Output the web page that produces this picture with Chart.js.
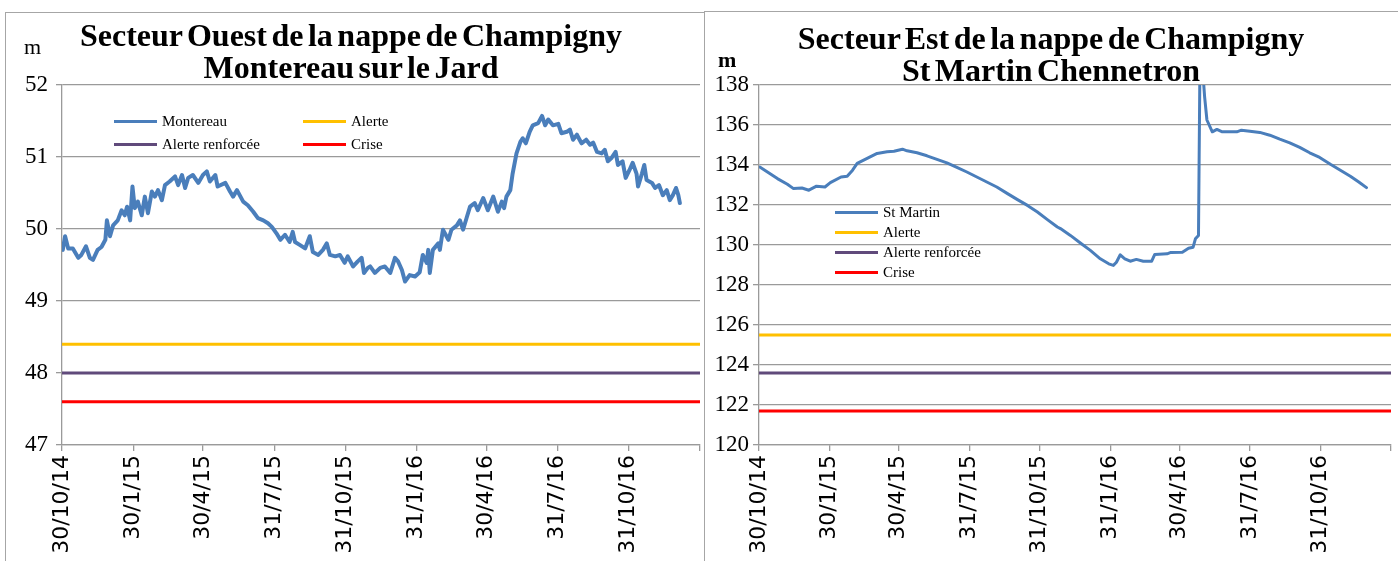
<!DOCTYPE html>
<html>
<head>
<meta charset="utf-8">
<script src="https://cdn.jsdelivr.net/npm/chart.js@4.4.1/dist/chart.umd.min.js"></script>
<style>
html,body{margin:0;padding:0;background:#fff;}
body{width:1398px;height:561px;position:relative;overflow:hidden;font-family:"Liberation Serif","Times New Roman",serif;color:#000;}
.box{position:absolute;border:1.5px solid #a6a6a6;box-sizing:border-box;}
canvas{position:absolute;top:0;}
.title{position:absolute;text-align:center;font-weight:bold;font-size:32px;line-height:32px;word-spacing:-3.5px;white-space:nowrap;}
.unit{position:absolute;font-size:22px;line-height:22px;}
.item{position:absolute;white-space:nowrap;font-size:15px;line-height:16px;height:16px;}
.item i{position:absolute;left:0;top:6.5px;width:43px;height:3px;}
.item span{position:absolute;left:48px;top:0;}
</style>
</head>
<body>
<div class="box" style="left:5px;top:12px;width:700px;height:600px;"></div>
<div class="box" style="left:704px;top:11px;width:700px;height:600px;"></div>
<canvas id="cOuest" width="702" height="561" style="left:0;"></canvas>
<canvas id="cEst" width="694" height="561" style="left:704px;"></canvas>
<div class="title" style="left:0;top:19px;width:702px;">Secteur Ouest de la nappe de Champigny<br>Montereau sur le Jard</div>
<div class="title" style="left:704px;top:22px;width:694px;">Secteur Est de la nappe de Champigny<br>St Martin Chennetron</div>
<div class="unit" style="left:24px;top:36px;">m</div>
<div class="unit" style="left:718px;top:49px;font-weight:bold;">m</div>
<div id="legends"></div>
<script>
// ---- Data ----
const startDate = '2014-10-30';
const tickDates = ['2014-10-30','2015-01-30','2015-04-30','2015-07-31','2015-10-31','2016-01-31','2016-04-30','2016-07-31','2016-10-31','2017-01-31'];
const tickLabels = ['30/10/14','30/1/15','30/4/15','31/7/15','31/10/15','31/1/16','30/4/16','31/7/16','31/10/16',''];

// Montereau (days since 30/10/2014, level m)
const montereauDay = [1,4,8,14,21,25,31,36,40,46,51,56,58,62,66,72,77,81,84,88,91,94,98,103,107,111,116,120,124,129,133,139,146,150,155,159,163,169,176,182,187,191,198,201,211,217,221,226,234,240,247,253,260,266,271,277,282,288,294,298,301,307,314,320,324,331,337,342,346,353,359,365,369,376,382,387,390,395,398,404,411,417,424,430,434,439,443,449,456,462,466,471,473,475,479,486,488,492,499,503,510,514,518,523,527,533,537,544,550,557,563,568,571,574,579,582,587,592,595,599,604,608,615,620,624,628,634,641,645,652,656,660,665,671,677,682,686,691,697,701,705,710,715,718,724,728,733,737,742,744,749,752,755,762,766,771,776,781,785,789,793,796,798];
const montereauLevel = [49.71,49.90,49.73,49.73,49.60,49.64,49.76,49.60,49.57,49.71,49.75,49.85,50.12,49.90,50.05,50.12,50.26,50.19,50.31,50.12,50.59,50.29,50.38,50.19,50.45,50.22,50.52,50.45,50.54,50.40,50.61,50.66,50.73,50.61,50.75,50.57,50.71,50.75,50.64,50.75,50.80,50.66,50.75,50.59,50.64,50.52,50.45,50.54,50.38,50.33,50.24,50.15,50.12,50.08,50.03,49.94,49.85,49.92,49.82,49.96,49.82,49.78,49.73,49.90,49.68,49.64,49.71,49.80,49.64,49.62,49.64,49.53,49.62,49.48,49.55,49.60,49.39,49.46,49.48,49.39,49.46,49.48,49.39,49.60,49.55,49.43,49.27,49.36,49.34,49.40,49.64,49.53,49.71,49.39,49.71,49.80,49.71,49.99,49.85,49.99,50.05,50.12,49.99,50.17,50.31,50.36,50.26,50.43,50.26,50.45,50.24,50.38,50.29,50.45,50.54,50.77,51.05,51.21,51.26,51.19,51.35,51.44,51.47,51.57,51.44,51.52,51.44,51.46,51.33,51.35,51.38,51.24,51.31,51.19,51.24,51.17,51.20,51.07,51.05,51.10,50.94,50.99,51.07,50.89,50.94,50.71,50.82,50.92,50.77,50.59,50.77,50.89,50.68,50.64,50.57,50.61,50.47,50.54,50.40,50.47,50.57,50.47,50.36];
const ouestAlerte = 48.4, ouestRenforcee = 48.0, ouestCrise = 47.6;

// St Martin (days since 30/10/2014, level m)
const stMartinDay = [1,11,24,37,45,56,65,75,86,93,107,115,122,128,141,154,167,176,187,193,206,219,232,245,258,271,284,297,310,324,337,350,363,376,389,393,406,419,432,445,456,462,466,471,477,484,492,501,512,516,532,537,552,560,566,569,573,575,578,581,584,591,597,604,623,629,640,653,666,679,692,705,718,731,745,758,771,782,792];
const stMartinLevel = [133.90,133.65,133.32,133.04,132.82,132.85,132.74,132.94,132.90,133.12,133.40,133.44,133.74,134.08,134.33,134.58,134.66,134.69,134.79,134.71,134.61,134.46,134.28,134.11,133.88,133.65,133.40,133.15,132.90,132.57,132.27,131.98,131.65,131.27,130.90,130.82,130.48,130.10,129.73,129.31,129.06,128.98,129.14,129.51,129.31,129.19,129.28,129.19,129.19,129.53,129.56,129.63,129.64,129.84,129.89,130.31,130.48,139.5,139.0,137.41,136.25,135.66,135.78,135.66,135.66,135.74,135.69,135.63,135.49,135.29,135.11,134.88,134.61,134.38,134.04,133.74,133.44,133.15,132.87];
const estAlerte = 125.5, estRenforcee = 123.6, estCrise = 121.7;

const COLORS = {serie:'#4a7ebb', alerte:'#ffc000', renforcee:'#604a7b', crise:'#ff0000'};

// ---- Helpers ----
const DAY = 86400000;
const t0 = Date.parse(startDate + 'T00:00:00Z');
const tickDays = tickDates.map(d => Math.round((Date.parse(d + 'T00:00:00Z') - t0) / DAY));
const xMax = tickDays[tickDays.length - 1];
const pts = (xs, ys) => xs.map((x, i) => ({x: x, y: ys[i]}));
const flat = v => [{x: 0, y: v}, {x: xMax, y: v}];
const GRID = '#9a9a9a';

function makeChart(id, cfg) {
  const datasets = [
    {label: cfg.name, data: pts(cfg.days, cfg.levels), borderColor: COLORS.serie, borderWidth: cfg.serieWidth, pointRadius: 0, tension: 0, borderJoinStyle: 'round', borderCapStyle: 'round'},
    {label: 'Alerte', data: flat(cfg.alerte), borderColor: COLORS.alerte, borderWidth: 3, pointRadius: 0},
    {label: 'Alerte renforcée', data: flat(cfg.renforcee), borderColor: COLORS.renforcee, borderWidth: 3, pointRadius: 0},
    {label: 'Crise', data: flat(cfg.crise), borderColor: COLORS.crise, borderWidth: 3, pointRadius: 0}
  ];
  new Chart(document.getElementById(id), {
    type: 'line',
    data: {datasets: datasets},
    options: {
      responsive: false, animation: false, devicePixelRatio: 1,
      layout: {padding: {top: 85, left: 0, right: cfg.padRight, bottom: 0}},
      plugins: {legend: {display: false}, tooltip: {enabled: false}, title: {display: false}},
      scales: {
        x: {
          type: 'linear', min: 0, max: xMax,
          afterBuildTicks: s => { s.ticks = tickDays.map(v => ({value: v})); },
          afterFit: s => { s.height = 116; s.paddingLeft = 0; s.paddingRight = 0; },
          ticks: {autoSkip: false, minRotation: 90, maxRotation: 90, padding: 4, color: '#000',
                  font: {family: 'DejaVu Sans', size: 22},
                  callback: (v, i) => tickLabels[i]},
          grid: {drawOnChartArea: false, color: GRID, lineWidth: 1.3, tickLength: 6},
          border: {color: GRID, width: 1.3}
        },
        y: {
          min: cfg.yMin, max: cfg.yMax,
          afterFit: s => { s.width = cfg.yWidth; },
          ticks: {stepSize: cfg.yStep, padding: cfg.yPad, color: '#000', font: {family: 'Liberation Serif', size: 23}},
          grid: {color: GRID, lineWidth: 1.3, tickLength: 6},
          border: {color: GRID, width: 1.3}
        }
      }
    }
  });
  // HTML legend built from the datasets
  const host = document.getElementById('legends');
  datasets.forEach((ds, i) => {
    const p = cfg.legendPos[i];
    const el = document.createElement('div');
    el.className = 'item';
    el.style.left = p[0] + 'px';
    el.style.top = (p[1] - 8) + 'px';
    el.innerHTML = '<i style="background:' + ds.borderColor + '"></i><span>' + ds.label + '</span>';
    host.appendChild(el);
  });
}

makeChart('cOuest', {
  name: 'Montereau', days: montereauDay, levels: montereauLevel,
  alerte: ouestAlerte, renforcee: ouestRenforcee, crise: ouestCrise,
  yMin: 47, yMax: 52, yStep: 1, yWidth: 62, yPad: 8, padRight: 2, serieWidth: 4,
  legendPos: [[114, 121], [303, 121], [114, 144], [303, 144]]
});
makeChart('cEst', {
  name: 'St Martin', days: stMartinDay, levels: stMartinLevel,
  alerte: estAlerte, renforcee: estRenforcee, crise: estCrise,
  yMin: 120, yMax: 138, yStep: 2, yWidth: 55, yPad: 4, padRight: 7, serieWidth: 3,
  legendPos: [[835, 212], [835, 232], [835, 252], [835, 272]]
});
</script>
</body>
</html>
